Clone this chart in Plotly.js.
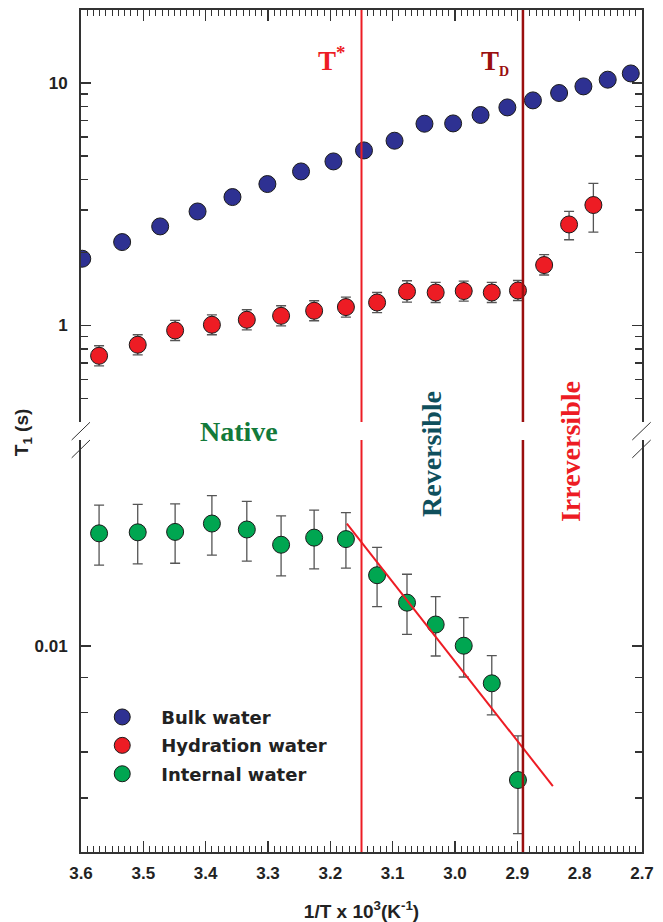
<!DOCTYPE html>
<html>
<head>
<meta charset="utf-8">
<script src="https://cdn.plot.ly/plotly-3.0.1.min.js"></script>
<style>html,body{margin:0;padding:0;background:#fff;}</style>
</head>
<body>
<div id="chart" style="width:663px;height:922px;"></div>
<script>
// ---- data ----
const xBulk = [3.598, 3.534, 3.473, 3.413, 3.357, 3.301, 3.247, 3.195, 3.146, 3.097, 3.049, 3.003, 2.959, 2.916, 2.875, 2.833, 2.794, 2.755, 2.718];
const yBulk = [1.885, 2.208, 2.562, 2.953, 3.386, 3.831, 4.318, 4.749, 5.272, 5.781, 6.793, 6.813, 7.379, 7.930, 8.478, 9.094, 9.683, 10.32, 10.95];

const xHyd = [3.571, 3.509, 3.449, 3.390, 3.334, 3.279, 3.226, 3.175, 3.125, 3.077, 3.031, 2.986, 2.941, 2.899, 2.857, 2.817, 2.778];
const yHyd = [0.750, 0.833, 0.954, 1.007, 1.056, 1.096, 1.150, 1.191, 1.244, 1.381, 1.368, 1.387, 1.368, 1.394, 1.775, 2.610, 3.139];
const hydErrPlus  = [0.075, 0.083, 0.095, 0.100, 0.105, 0.110, 0.115, 0.119, 0.124, 0.148, 0.137, 0.138, 0.137, 0.139, 0.186, 0.343, 0.714];
const hydErrMinus = [0.068, 0.076, 0.087, 0.091, 0.096, 0.100, 0.104, 0.108, 0.113, 0.133, 0.124, 0.126, 0.124, 0.126, 0.160, 0.353, 0.711];

const xInt = [3.571, 3.509, 3.449, 3.390, 3.334, 3.279, 3.226, 3.175, 3.125, 3.077, 3.031, 2.986, 2.941, 2.899];
const yInt = [0.01461, 0.01466, 0.01468, 0.01510, 0.01480, 0.01406, 0.01440, 0.01433, 0.01269, 0.01157, 0.01075, 0.01001, 0.00882, 0.00637];
const intErrPlus  = [0.00146, 0.00145, 0.00145, 0.00149, 0.00147, 0.00143, 0.00140, 0.00133, 0.00125, 0.00116, 0.00106, 0.00099, 0.00086, 0.00102];
const intErrMinus = [0.00148, 0.00148, 0.00147, 0.00152, 0.00149, 0.00140, 0.00144, 0.00133, 0.00127, 0.00117, 0.00108, 0.00100, 0.00089, 0.00105];

const fitX = [3.1735, 2.843];
const fitY = [0.0151, 0.00624];

const tStarX = 3.15;
const tDX = 2.891;

const xTickVals = [3.6, 3.5, 3.4, 3.3, 3.2, 3.1, 3.0, 2.9, 2.8, 2.7];
const upperMajor = [1, 10];
const upperMinor = [0.4, 0.5, 0.6, 0.7, 0.8, 0.9, 2, 3, 4, 5, 6, 7, 8, 9, 20];
const lowerMajor = [0.01];
const lowerMinor = [0.005, 0.006, 0.007, 0.008, 0.009, 0.02];

const seriesNames = ['Bulk water', 'Hydration water', 'Internal water'];

// ---- styling ----
const C_BLUE = '#2e3192', C_RED = '#ed1c24', C_GREEN = '#00a651';
const C_TD = '#9a0f0f';
const AX = '#333333';
const tickFont = {family: 'Liberation Sans, Arial, sans-serif', size: 17, color: '#222', weight: 700};
const mk = (c) => ({size: 17, color: c, line: {color: '#1a1a1a', width: 1}});
const eb = (p, m) => ({type: 'data', symmetric: false, array: p, arrayminus: m, color: '#555', thickness: 1.3, width: 5});

const traces = [
  {x: xBulk, y: yBulk, xaxis: 'x2', yaxis: 'y2', mode: 'markers', name: seriesNames[0], legendgroup: 'a', marker: mk(C_BLUE)},
  {x: xHyd, y: yHyd, xaxis: 'x2', yaxis: 'y2', mode: 'markers', name: seriesNames[1], legendgroup: 'b', marker: mk(C_RED), error_y: eb(hydErrPlus, hydErrMinus)},
  {x: xInt, y: yInt, xaxis: 'x', yaxis: 'y', mode: 'markers', name: seriesNames[2], legendgroup: 'c', marker: mk(C_GREEN), error_y: eb(intErrPlus, intErrMinus)},
  {x: fitX, y: fitY, xaxis: 'x', yaxis: 'y', mode: 'lines', line: {color: C_RED, width: 2}, showlegend: false, hoverinfo: 'skip'}
];

const yCommon = {
  type: 'log', showline: true, linecolor: AX, linewidth: 2, mirror: 'ticks',
  ticks: 'inside', ticklen: 10, tickwidth: 1.5, tickcolor: AX, ticklabelstandoff: 8,
  showgrid: false, zeroline: false, tickfont: tickFont, tickmode: 'array'
};

const domSplit = 0.4893, domSplit2 = 0.5107;

const vline = (x, c, w, yref) => ({type: 'line', xref: 'x', yref: yref, x0: x, x1: x, y0: 0, y1: 1, line: {color: c, width: w}});
const slash = (x0, y0, x1, y1) => ({type: 'line', xref: 'paper', yref: 'paper', x0: x0, y0: y0, x1: x1, y1: y1, line: {color: '#333', width: 1}});

const layout = {
  width: 663, height: 922,
  margin: {l: 81, r: 21, t: 10, b: 70},
  paper_bgcolor: '#fff', plot_bgcolor: 'rgba(0,0,0,0)',
  showlegend: true,
  legend: {x: 0.004, y: 0.182, xanchor: 'left', yanchor: 'top', bgcolor: 'rgba(0,0,0,0)',
           font: {family: 'DejaVu Sans, sans-serif', size: 18, color: '#222', weight: 700},
           itemwidth: 68, traceorder: 'grouped', tracegroupgap: 2},
  xaxis: {
    anchor: 'y', range: [3.6, 2.7], showline: true, linecolor: AX, linewidth: 2, mirror: false,
    ticks: 'inside', ticklen: 11, tickwidth: 1.5, tickcolor: AX, tickmode: 'array', tickvals: xTickVals,
    tickformat: '.1f', tickfont: tickFont, ticklabelstandoff: 5, showgrid: false, zeroline: false,
    minor: {dtick: 0.01, tick0: 2.7, ticks: 'inside', ticklen: 6, tickwidth: 1, tickcolor: AX, showgrid: false},
    title: {text: '1/T x 10<sup>3</sup>(K<sup>-1</sup>)', font: {family: 'Liberation Sans, Arial, sans-serif', size: 19, color: '#222', weight: 700}, standoff: 23}
  },
  xaxis2: {
    anchor: 'y2', matches: 'x', side: 'top', range: [3.6, 2.7], showline: true, linecolor: AX, linewidth: 2,
    ticks: 'inside', ticklen: 11, tickwidth: 1.5, tickcolor: AX, tickmode: 'array', tickvals: xTickVals,
    showticklabels: false, showgrid: false, zeroline: false,
    minor: {dtick: 0.01, tick0: 2.7, ticks: 'inside', ticklen: 6, tickwidth: 1, tickcolor: AX, showgrid: false}
  },
  yaxis: Object.assign({}, yCommon, {
    domain: [0, domSplit], anchor: 'x', range: [Math.log10(0.005), Math.log10(0.02)],
    tickvals: lowerMajor, ticktext: ['0.01'],
    minor: {tickmode: 'array', tickvals: lowerMinor, ticks: 'inside', ticklen: 7, tickwidth: 1.5, tickcolor: AX, showgrid: false}
  }),
  yaxis2: Object.assign({}, yCommon, {
    domain: [domSplit2, 1], anchor: 'x2', range: [Math.log10(0.4), Math.log10(20)],
    tickvals: upperMajor, ticktext: ['1', '10'],
    minor: {tickmode: 'array', tickvals: upperMinor, ticks: 'inside', ticklen: 7, tickwidth: 1.5, tickcolor: AX, showgrid: false}
  }),
  shapes: [
    vline(tStarX, C_RED, 2, 'y domain'), vline(tStarX, C_RED, 2, 'y2 domain'),
    vline(tDX, C_TD, 2.5, 'y domain'), vline(tDX, C_TD, 2.5, 'y2 domain'),
    slash(-0.0166, 0.4893, 0.0160, 0.5104),
    slash(-0.0166, 0.4681, 0.0160, 0.4893),
    slash(0.9827, 0.4893, 1.0155, 0.5104),
    slash(0.9827, 0.4681, 1.0155, 0.4893)
  ],
  annotations: [
    {xref: 'paper', yref: 'paper', x: 0.419, y: 0.942, xanchor: 'left', yanchor: 'middle', showarrow: false,
     text: 'T<sup>*</sup>', font: {family: 'Liberation Serif, Times New Roman, serif', size: 27, color: C_RED, weight: 700}},
    {xref: 'paper', yref: 'paper', x: 0.709, y: 0.938, xanchor: 'left', yanchor: 'middle', showarrow: false,
     text: 'T<sub><span style="font-size:14px">D</span></sub>', font: {family: 'Liberation Serif, Times New Roman, serif', size: 27, color: C_TD, weight: 700}},
    {xref: 'paper', yref: 'paper', x: 0.2816, y: 0.5, xanchor: 'center', yanchor: 'middle', showarrow: false,
     text: 'Native', font: {family: 'Liberation Serif, Times New Roman, serif', size: 28, color: '#137a3a', weight: 700}},
    {xref: 'paper', yref: 'paper', x: 0.6257, y: 0.4727, xanchor: 'center', yanchor: 'middle', showarrow: false, textangle: -90,
     text: 'Reversible', font: {family: 'Liberation Serif, Times New Roman, serif', size: 28, color: '#0f4f5c', weight: 700}},
    {xref: 'paper', yref: 'paper', x: 0.8717, y: 0.475, xanchor: 'center', yanchor: 'middle', showarrow: false, textangle: -90,
     text: 'Irreversible', font: {family: 'Liberation Serif, Times New Roman, serif', size: 28, color: C_RED, weight: 700}},
    {xref: 'paper', yref: 'paper', x: -0.103, y: 0.4988, xanchor: 'center', yanchor: 'middle', showarrow: false, textangle: -90,
     text: 'T<sub>1</sub> (s)', font: {family: 'Liberation Sans, Arial, sans-serif', size: 19, color: '#222', weight: 700}}
  ]
};

Plotly.newPlot('chart', traces, layout, {displayModeBar: false, staticPlot: true});
</script>
</body>
</html>
